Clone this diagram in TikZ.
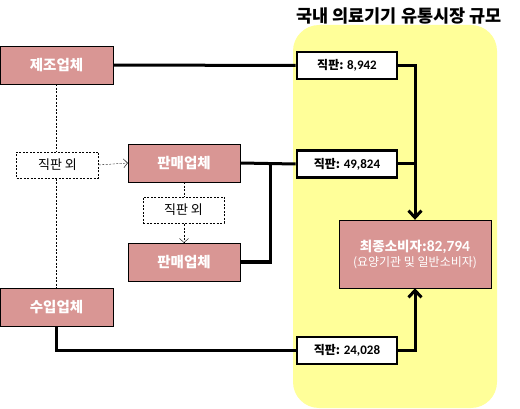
\documentclass[tikz,border=0pt]{standalone}
\usepackage{fontspec}
\setmainfont{Noto Sans CJK KR}
\newfontfamily\numfont{Carlito}
\usetikzlibrary{arrows.meta}
\definecolor{firmpink}{HTML}{D99694}
\definecolor{marketyellow}{HTML}{FFFF99}
\begin{document}
\begin{tikzpicture}[x=1pt,y=-1pt,
    firm/.style={draw, thin, fill=firmpink, text=white, font=\fontsize{14.5}{16}\selectfont\bfseries, minimum width=113pt, minimum height=38pt, inner sep=0pt},
    direct/.style={draw, line width=2.6pt, fill=white, font=\fontsize{12}{14}\selectfont, minimum width=100pt, minimum height=27pt, inner sep=0pt},
    other/.style={draw, thin, dash pattern=on 2pt off 1.5pt, fill=white, font=\fontsize{13}{15}\selectfont, minimum width=82pt, minimum height=26pt, inner sep=0pt},
    flow/.style={line width=3pt},
    weak/.style={thin, dash pattern=on 2pt off 1.5pt}]
    \useasboundingbox (0,0) rectangle (520,409);

    % market area
    \fill[marketyellow, rounded corners=26pt] (293,25) rectangle (497,408);
    \node (title) at (399,16) {\fontsize{17.5}{19}\selectfont\bfseries 국내 의료기기 유통시장 규모};

    % firms
    \node (maker) at (56.5,65) [firm] {제조업체};
    \node (importer) at (56.5,307) [firm] {수입업체};
    \node (seller1) at (184,163) [firm, minimum width=112pt] {판매업체};
    \node (seller2) at (184,262) [firm, minimum width=112pt] {판매업체};

    \draw[weak] (maker.south) -- (importer.north);
    \draw[weak, -{Straight Barb[length=4pt,width=9pt]}] (seller1.south) -- (seller2.north);

    \node (other1) at (57.5,165) [other] {직판 외};
    \node (other2) at (183.5,210) [other, minimum width=81pt] {직판 외};
    \draw[weak, -{Straight Barb[length=4pt,width=9pt]}] (other1.east) -- (seller1.west);

    % consumer
    \node (consumer) at (415,254) [firm, minimum width=152pt, minimum height=68pt, align=center, font=\fontsize{13.5}{16}\selectfont]
        {\textbf{최종소비자:{\numfont\bfseries\fontsize{15.5}{16}\selectfont 82,794}}\\[-1pt]{\fontsize{12}{13}\selectfont(요양기관 및 일반소비자)}};

    % direct sales
    \node (d1) at (347,65.5) [direct] {\textbf{직판:} {\numfont\bfseries\fontsize{13}{14}\selectfont 8,942}};
    \node (d2) at (347,164) [direct] {\textbf{직판:} {\numfont\bfseries\fontsize{13}{14}\selectfont 49,824}};
    \node (d3) at (347,350.5) [direct] {\textbf{직판:} {\numfont\bfseries\fontsize{13}{14}\selectfont 24,028}};

    \coordinate (join) at (270,163);
    \draw[flow] (maker.east) -- (d1.west);
    \draw[flow] (seller1.east) -- (d2.west);
    \draw[flow] (seller2.east) -| (join);
    \draw[flow] (importer.south) |- (d3.west);
    \draw[flow, -{Straight Barb[length=7pt,width=13pt]}] (d1.east) -| (consumer.north);
    \draw[flow] (d2.east) -- (d2.east -| consumer.north);
    \draw[flow, -{Straight Barb[length=7pt,width=13pt]}] (d3.east) -| (consumer.south);
\end{tikzpicture}
\end{document}
